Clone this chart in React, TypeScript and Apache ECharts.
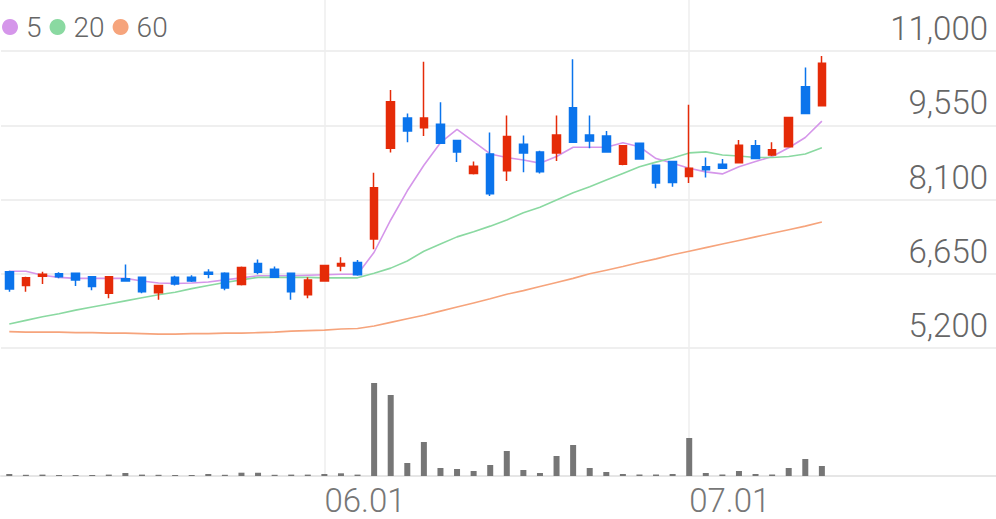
import React, { useEffect, useRef } from 'react';
import * as echarts from 'echarts';

// trading days (MM.DD), 2021
const dates = [
  '05.03','05.04','05.06','05.07','05.10','05.11','05.12','05.13','05.14','05.17',
  '05.18','05.20','05.21','05.24','05.25','05.26','05.27','05.28','05.31','06.01',
  '06.02','06.03','06.04','06.07','06.08','06.09','06.10','06.11','06.14','06.15',
  '06.16','06.17','06.18','06.21','06.22','06.23','06.24','06.25','06.28','06.29',
  '06.30','07.01','07.02','07.05','07.06','07.07','07.08','07.09','07.12','07.13',
];

// [open, close, low, high]
const candles = [
  [6690, 6350, 6300, 6710], [6420, 6570, 6300, 6590], [6600, 6640, 6450, 6690], [6650, 6590, 6560, 6680],
  [6660, 6530, 6410, 6660], [6590, 6400, 6330, 6590], [6270, 6590, 6170, 6590], [6550, 6510, 6510, 6830],
  [6580, 6300, 6270, 6580], [6280, 6420, 6140, 6430], [6580, 6450, 6420, 6610], [6580, 6510, 6490, 6620],
  [6680, 6640, 6560, 6740], [6660, 6370, 6330, 6680], [6440, 6770, 6420, 6790], [6850, 6680, 6640, 6930],
  [6740, 6580, 6570, 6790], [6660, 6300, 6140, 6670], [6240, 6530, 6170, 6580], [6510, 6810, 6500, 6820],
  [6800, 6850, 6700, 6970], [6870, 6630, 6610, 6920], [7330, 8330, 7130, 8620], [9100, 10010, 9020, 10240],
  [9690, 9440, 9220, 9780], [9500, 9690, 9340, 10790], [9570, 9200, 9200, 10000], [9250, 9030, 8830, 9250],
  [8610, 8750, 8590, 8840], [8990, 8210, 8170, 9410], [8660, 9330, 8460, 9740], [9180, 9010, 8630, 9350],
  [9030, 8640, 8610, 9050], [9010, 9360, 8850, 9740], [9890, 9220, 9220, 10840], [9360, 9240, 9100, 9740],
  [9340, 9030, 9030, 9440], [8790, 9150, 8770, 9160], [9200, 8890, 8890, 9210], [8770, 8420, 8320, 8770],
  [8840, 8430, 8350, 8850], [8550, 8710, 8420, 9950], [8740, 8680, 8530, 8920], [8790, 8710, 8700, 8890],
  [8820, 9160, 8820, 9260], [9150, 8900, 8890, 9260], [8970, 9070, 8950, 9220], [9130, 9700, 9130, 9700],
  [10300, 9780, 9780, 10680], [9930, 10760, 9930, 10900],
];

const ma5 = [
  6700, 6700, 6620, 6580, 6560, 6560, 6560, 6560, 6510, 6470,
  6460, 6470, 6490, 6530, 6570, 6610, 6610, 6610, 6620, 6630,
  6640, 6640, 7070, 7700, 8270, 8770, 9210, 9470, 9230, 8990,
  8920, 8870, 8810, 8940, 9120, 9120, 9120, 9210, 9130, 8900,
  8810, 8710, 8640, 8600, 8740, 8840, 8940, 9110, 9310, 9630,
];

const ma20 = [
  5670, 5740, 5810, 5870, 5940, 6000, 6060, 6120, 6180, 6240,
  6290, 6360, 6420, 6480, 6530, 6580, 6580, 6580, 6580, 6570,
  6570, 6570, 6660, 6760, 6900, 7090, 7230, 7370, 7470, 7580,
  7700, 7840, 7950, 8090, 8230, 8350, 8480, 8610, 8740, 8830,
  8910, 9010, 9030, 8970, 8950, 8920, 8920, 8940, 8990, 9110,
];

const ma60 = [
  5520, 5510, 5510, 5510, 5500, 5500, 5490, 5490, 5480, 5470,
  5470, 5480, 5480, 5490, 5490, 5500, 5510, 5530, 5540, 5550,
  5570, 5580, 5630, 5700, 5770, 5840, 5920, 6000, 6080, 6160,
  6250, 6320, 6400, 6480, 6560, 6650, 6720, 6790, 6870, 6940,
  7020, 7090, 7160, 7230, 7300, 7370, 7440, 7510, 7580, 7660,
];

// thousand shares
const volumes = [
  20, 12, 14, 10, 10, 10, 14, 30, 14, 12,
  10, 10, 20, 12, 33, 33, 12, 14, 14, 20,
  27, 14, 930, 810, 130, 340, 80, 70, 50, 110,
  250, 60, 30, 200, 310, 80, 40, 20, 15, 15,
  20, 380, 30, 15, 50, 20, 15, 80, 170, 100,
];

const priceMin = 5200;
const priceMax = 11000;
const priceStep = 1450;
const volumeMax = 1200;
const emptySlots = 10;

const maNames = ['5', '20', '60'];
const maColors = ['#d596ea', '#8ad9a1', '#f6a47c'];
const UP = '#e52b08';
const DOWN = '#0b74ec';
const FONT = 'Roboto';

export default function App() {
  const ref = useRef<HTMLDivElement>(null);

  useEffect(() => {
    const el = ref.current!;
    const chart = echarts.init(el, null, { renderer: 'svg' });
    const cats = [...dates, ...Array.from({ length: emptySlots }, (_, i) => ' '.repeat(i + 1))];
    const W = 996;
    const gridLeft = 1;
    const band = (W - gridLeft) / cats.length;
    const isMonthStart = (_: number, v: string) => typeof v === 'string' && v.endsWith('.01');

    const maSeries = [ma5, ma20, ma60].map((d, i) => ({
      name: maNames[i],
      type: 'line',
      xAxisIndex: 0,
      yAxisIndex: 0,
      data: d,
      symbol: 'none',
      showSymbol: false,
      smooth: false,
      lineStyle: { width: 1.6, color: maColors[i] },
      itemStyle: { color: maColors[i] },
      z: 2,
      silent: true,
    }));

    chart.setOption({
      animation: false,
      backgroundColor: '#ffffff',
      textStyle: { fontFamily: FONT },
      legend: {
        data: maNames,
        left: 2,
        top: 13,
        padding: 0,
        icon: 'circle',
        itemWidth: 16,
        itemHeight: 16,
        itemGap: 8,
        selectedMode: false,
        textStyle: { fontSize: 28, color: '#666666', fontFamily: FONT, fontWeight: 300, padding: [0, 0, 0, 3] },
      },
      grid: [
        { left: gridLeft, right: 0, top: 51, bottom: 171 },
        { left: gridLeft, right: 0, top: 356, bottom: 43 },
        { left: gridLeft + band / 2, right: band / 2, top: 0, bottom: 43 },
      ],
      xAxis: [
        {
          type: 'category', gridIndex: 0, data: cats, boundaryGap: true,
          axisLine: { show: false }, axisTick: { show: false }, axisLabel: { show: false }, splitLine: { show: false },
        },
        {
          type: 'category', gridIndex: 1, data: cats, boundaryGap: true,
          axisLine: { show: true, lineStyle: { color: '#e6e6e6', width: 2 } },
          axisTick: { show: false },
          axisLabel: {
            interval: isMonthStart, align: 'left', fontSize: 33, color: '#777777',
            fontFamily: FONT, fontWeight: 300, margin: 8,
          },
          splitLine: { show: false },
        },
        {
          type: 'category', gridIndex: 2, data: cats, boundaryGap: false,
          axisLine: { show: false }, axisTick: { show: false }, axisLabel: { show: false },
          splitLine: { show: true, interval: isMonthStart, lineStyle: { color: '#eeeeee', width: 1.5 } },
        },
      ],
      yAxis: [
        {
          type: 'value', gridIndex: 0, position: 'right',
          min: priceMin, max: priceMax, interval: priceStep,
          axisLine: { show: false }, axisTick: { show: false },
          axisLabel: {
            inside: true, margin: 8, fontSize: 33, color: '#666666', fontFamily: FONT, fontWeight: 300,
            verticalAlign: 'bottom', padding: [0, 0, 6, 0],
            formatter: (v: number) => v.toLocaleString('en-US'),
          },
          splitLine: { show: true, lineStyle: { color: '#efefef', width: 2 } },
        },
        {
          type: 'value', gridIndex: 1, min: 0, max: volumeMax, show: false,
          splitLine: { show: false },
        },
        {
          type: 'value', gridIndex: 2, min: 0, max: 1, show: false,
          splitLine: { show: false },
        },
      ],
      series: [
        {
          name: 'price',
          type: 'candlestick',
          xAxisIndex: 0,
          yAxisIndex: 0,
          data: candles,
          barWidth: 8,
          z: 3,
          silent: true,
          itemStyle: { color: UP, color0: DOWN, borderColor: UP, borderColor0: DOWN, borderWidth: 1.5 },
        },
        ...maSeries,
        {
          name: 'volume',
          type: 'bar',
          xAxisIndex: 1,
          yAxisIndex: 1,
          data: volumes,
          barWidth: 6,
          silent: true,
          itemStyle: { color: '#767676' },
        },
        {
          name: 'frame',
          type: 'line',
          xAxisIndex: 2,
          yAxisIndex: 2,
          data: [],
          silent: true,
        },
      ],
    });

    return () => chart.dispose();
  }, []);

  return (
    <div
      ref={ref}
      style={{ position: 'fixed', left: 0, top: 0, width: '996px', height: '519px', background: '#fff' }}
    />
  );
}
